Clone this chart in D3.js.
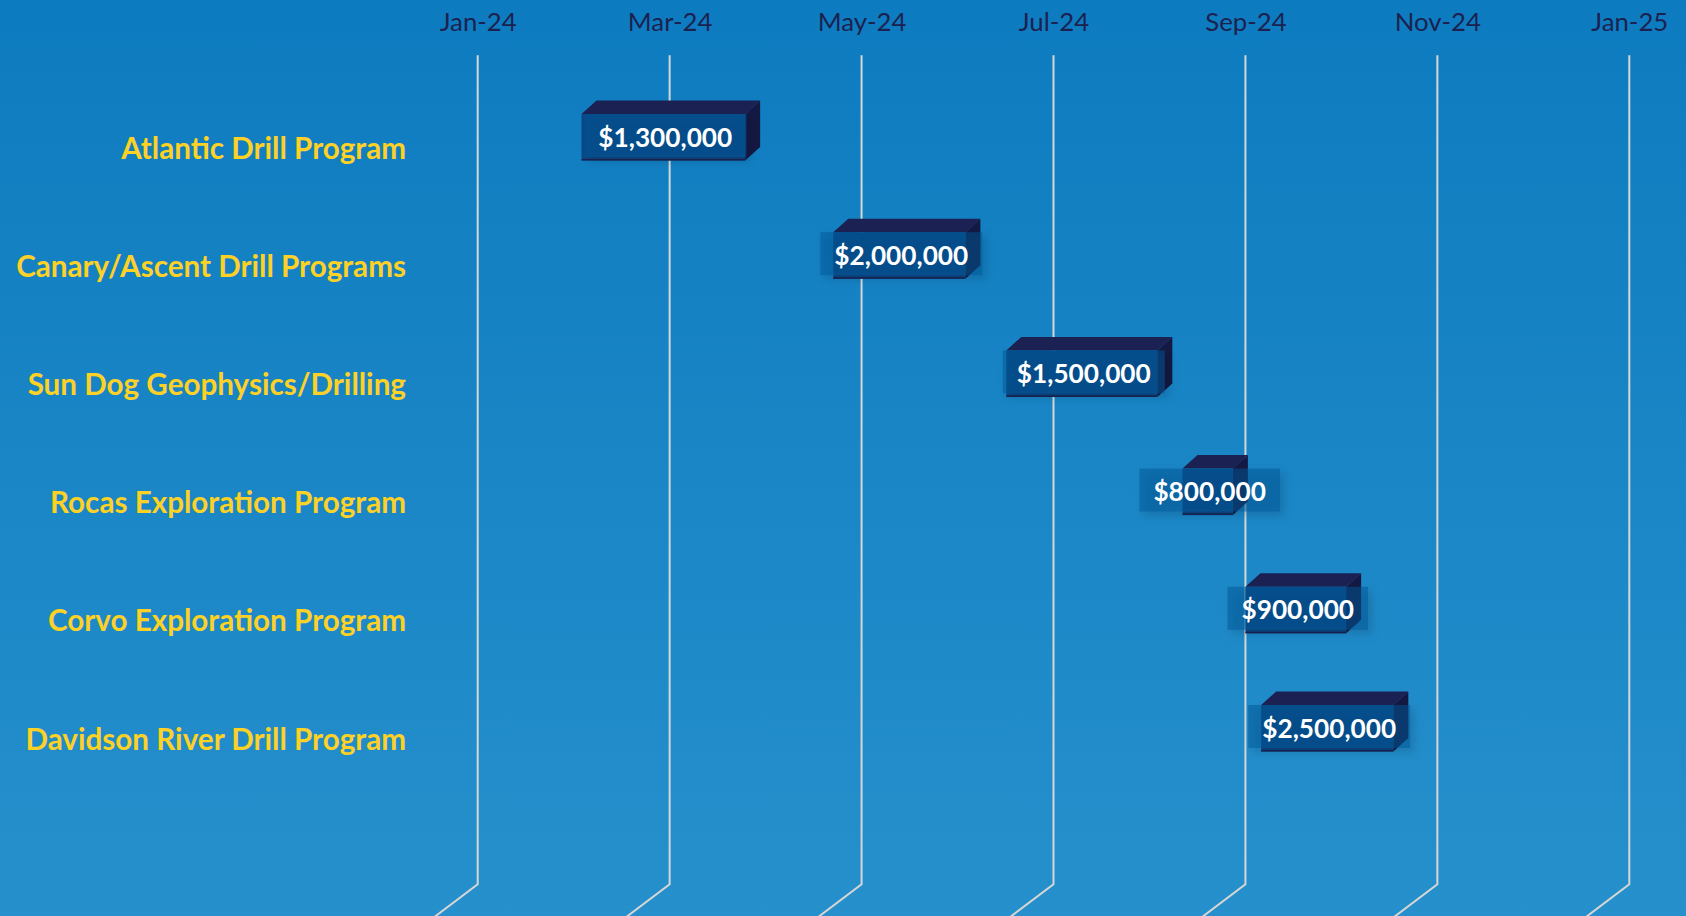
<!DOCTYPE html>
<html>
<head>
<meta charset="utf-8">
<script src="https://cdn.jsdelivr.net/npm/d3@7"></script>
<style>
  html,body{margin:0;padding:0;overflow:hidden;background:#1585c8;}
  svg{display:block;}
</style>
</head>
<body>
<svg id="chart" width="1686" height="916"></svg>
<script>
// ---- data ----
const categories = [
  "Atlantic Drill Program",
  "Canary/Ascent Drill Programs",
  "Sun Dog Geophysics/Drilling",
  "Rocas Exploration Program",
  "Corvo Exploration Program",
  "Davidson River Drill Program"
];
const startDates = ["2024-02-03","2024-04-23","2024-06-17","2024-08-12","2024-09-01","2024-09-06"];
const endDates   = ["2024-03-26","2024-06-04","2024-08-04","2024-08-28","2024-10-03","2024-10-18"];
const budgets    = [1300000, 2000000, 1500000, 800000, 900000, 2500000];
const tickDates  = ["2024-01-01","2024-03-02","2024-05-02","2024-07-02","2024-09-01","2024-11-01","2025-01-01"];
const tickLabels = ["Jan-24","Mar-24","May-24","Jul-24","Sep-24","Nov-24","Jan-25"];

// ---- setup ----
const W = 1686, H = 916;
const parse = d3.utcParse("%Y-%m-%d");
const svg = d3.select("#chart");
const defs = svg.append("defs");

const grad = defs.append("linearGradient").attr("id","bg").attr("x1",0).attr("y1",0).attr("x2",0).attr("y2",1);
grad.append("stop").attr("offset","0%").attr("stop-color","#0d7bbf");
grad.append("stop").attr("offset","100%").attr("stop-color","#2690cc");

const shadow = defs.append("filter").attr("id","shadow").attr("x","-30%").attr("y","-50%").attr("width","160%").attr("height","200%");
shadow.append("feDropShadow").attr("dx",4).attr("dy",4).attr("stdDeviation",4)
  .attr("flood-color","#000").attr("flood-opacity",0.28);

svg.append("rect").attr("width",W).attr("height",H).attr("fill","url(#bg)");

const wallTop = 55.3, wallBottom = 884.3;
const floorDx = -42, floorDy = 31.7;
const depthX = 15, depthY = 13.5;

const x = d3.scaleUtc()
  .domain([parse("2024-01-01"), parse("2025-01-01")])
  .range([477.7, 1629.3]);

const step = 118.2, barH = 46.5;
const pIn = 1 - barH/step;
const y = d3.scaleBand()
  .domain(categories)
  .range([114 - (pIn/2)*step, 114 - (pIn/2)*step + categories.length*step])
  .paddingInner(pIn).paddingOuter(pIn/2);

// ---- gridlines (back wall + floor) ----
const ticks = tickDates.map(parse);
svg.append("g").selectAll("path").data(ticks).join("path")
  .attr("d", d => {
    const gx = x(d);
    return `M${gx},${wallTop}L${gx},${wallBottom}L${gx + floorDx*1.6},${wallBottom + floorDy*1.6}`;
  })
  .attr("fill","none").attr("stroke","#d6d6d6").attr("stroke-width",2);

// ---- axis labels (top) ----
const xAxis = d3.axisTop(x).tickValues(ticks).tickFormat((d,i) => tickLabels[i]).tickSize(0).tickPadding(0);
const axG = svg.append("g").attr("transform","translate(0,31)").call(xAxis);
axG.select(".domain").remove();
axG.selectAll("text")
  .attr("fill","#1b2250")
  .attr("font-family","Lato, 'Open Sans', sans-serif")
  .attr("font-weight","normal")
  .attr("dy",0);

function fitFont(sel, target, firstIndex = 0) {
  sel.attr("font-size", 100);
  const w = sel.nodes()[firstIndex].getComputedTextLength();
  sel.attr("font-size", 100 * target / w);
}
fitFont(axG.selectAll("text"), 77);

// ---- category labels ----
const catSel = svg.append("g").selectAll("text").data(categories).join("text")
  .attr("x", 406)
  .attr("y", d => y(d) + 44.5)
  .attr("text-anchor","end")
  .attr("fill","#fdd125")
  .attr("font-family","Lato, 'Open Sans', sans-serif")
  .attr("font-weight","bold")
  .text(d => d);
fitFont(catSel, 285);

// ---- 3D bars ----
const rows = categories.map((c,i) => ({
  cat: c, s: parse(startDates[i]), e: parse(endDates[i]), v: budgets[i]
}));

const barG = svg.append("g");
rows.forEach(r => {
  const L = x(r.s), R = x(r.e), T = y(r.cat), B = T + y.bandwidth();
  const g = barG.append("g");
  g.append("path")
    .attr("d", `M${L},${T}L${R},${T}L${R+depthX},${T-depthY}L${L+depthX},${T-depthY}Z`)
    .attr("fill","#1b2152");
  g.append("path")
    .attr("d", `M${R},${T}L${R+depthX},${T-depthY}L${R+depthX},${B-depthY}L${R},${B}Z`)
    .attr("fill","#141943");
  g.append("rect").attr("x",L).attr("y",T).attr("width",R-L).attr("height",B-T)
    .attr("fill","#0b4786");
  g.append("line").attr("x1",L).attr("x2",R).attr("y1",B-0.75).attr("y2",B-0.75)
    .attr("stroke","#1b2152").attr("stroke-width",1.5);
});

// ---- value labels with translucent boxes ----
const fmt = d3.format("$,");
const labG = svg.append("g");
const labels = labG.selectAll("g").data(rows).join("g");
labels.append("rect")
  .attr("fill","#0a5596").attr("fill-opacity",0.5)
  .attr("filter","url(#shadow)");
const texts = labels.append("text")
  .attr("text-anchor","middle")
  .attr("fill","#ffffff")
  .attr("font-family","Lato, 'Open Sans', sans-serif")
  .attr("font-weight","bold")
  .attr("x", d => (x(d.s) + x(d.e)) / 2 + 2)
  .attr("y", d => y(d.cat) + y.bandwidth()/2)
  .attr("dy","0.36em")
  .text(d => fmt(d.v));
fitFont(texts, 134);
texts.each(function(d){
  const w = this.getComputedTextLength();
  const cx = (x(d.s) + x(d.e)) / 2 + 2;
  d3.select(this.parentNode).select("rect")
    .attr("x", cx - w/2 - 14)
    .attr("y", y(d.cat))
    .attr("width", w + 28)
    .attr("height", 43);
});
</script>
</body>
</html>
